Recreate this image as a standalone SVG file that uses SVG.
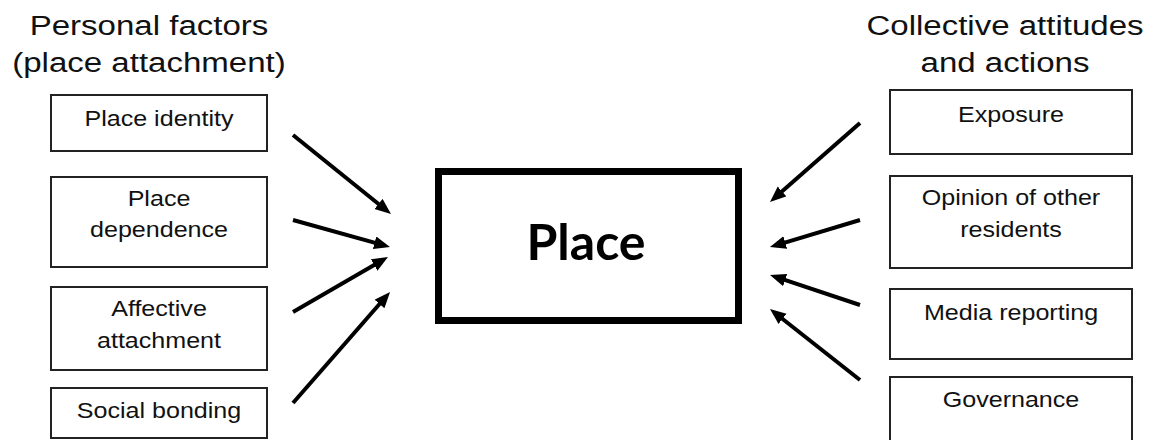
<svg xmlns="http://www.w3.org/2000/svg" width="1153" height="440" viewBox="0 0 1153 440">
<style>
.box{fill:#fff;stroke:#222;stroke-width:2}
.t{font-family:"Liberation Sans",Arial,sans-serif;font-size:22px;fill:#111;text-anchor:middle}
.h{font-family:"Liberation Sans",Arial,sans-serif;font-size:28px;fill:#111;text-anchor:middle}
.c{stroke:#000;stroke-width:4;fill:none;marker-end:url(#ah)}
</style>
<defs>
<marker id="ah" markerUnits="userSpaceOnUse" markerWidth="18" markerHeight="14" refX="10" refY="6.5" orient="auto">
<path d="M0,0 L16,6.5 L0,13 z" fill="#000"/>
</marker>
</defs>
<rect width="1153" height="440" fill="#fff"/>
<g id="title-left">
<text class="h" transform="translate(149,35) scale(1.18,1)">Personal factors</text>
<text class="h" transform="translate(149,72) scale(1.18,1)">(place attachment)</text>
</g>
<g id="title-right">
<text class="h" transform="translate(1005,35) scale(1.18,1)">Collective attitudes</text>
<text class="h" transform="translate(1005,72) scale(1.18,1)">and actions</text>
</g>
<g id="place-identity">
<rect class="box" x="51" y="95" width="216" height="56"/>
<text class="t" transform="translate(159,126) scale(1.14,1)">Place identity</text>
</g>
<g id="place-dependence">
<rect class="box" x="51" y="177" width="216" height="90"/>
<text class="t" transform="translate(159,206) scale(1.14,1)">Place</text>
<text class="t" transform="translate(159,237) scale(1.14,1)">dependence</text>
</g>
<g id="affective-attachment">
<rect class="box" x="51" y="287" width="216" height="83"/>
<text class="t" transform="translate(159,316) scale(1.14,1)">Affective</text>
<text class="t" transform="translate(159,348) scale(1.14,1)">attachment</text>
</g>
<g id="social-bonding">
<rect class="box" x="51" y="388" width="216" height="50"/>
<text class="t" transform="translate(159,418) scale(1.14,1)">Social bonding</text>
</g>
<g id="place">
<rect x="438.5" y="171.5" width="300" height="149" fill="#fff" stroke="#000" stroke-width="7"/>
<text x="586" y="260" font-family="Lato,'Open Sans',sans-serif" font-weight="bold" font-size="50" text-anchor="middle" fill="#000">Place</text>
</g>
<g id="exposure">
<rect class="box" x="890" y="90" width="242" height="64"/>
<text class="t" transform="translate(1011,122) scale(1.14,1)">Exposure</text>
</g>
<g id="opinion">
<rect class="box" x="890" y="176" width="242" height="92"/>
<text class="t" transform="translate(1011,205) scale(1.14,1)">Opinion of other</text>
<text class="t" transform="translate(1011,237) scale(1.14,1)">residents</text>
</g>
<g id="media-reporting">
<rect class="box" x="890" y="289" width="242" height="70"/>
<text class="t" transform="translate(1011,320) scale(1.14,1)">Media reporting</text>
</g>
<g id="governance">
<rect class="box" x="890" y="377" width="242" height="70"/>
<text class="t" transform="translate(1011,407) scale(1.14,1)">Governance</text>
</g>
<g id="connectors">
<line class="c" x1="293" y1="135" x2="386.3" y2="210.2"/>
<line class="c" x1="293" y1="220" x2="384.2" y2="245.4"/>
<line class="c" x1="293" y1="312" x2="382.8" y2="260.0"/>
<line class="c" x1="293" y1="403" x2="386.1" y2="296.5"/>
<line class="c" x1="860" y1="123" x2="774.5" y2="198.0"/>
<line class="c" x1="860" y1="220" x2="775.7" y2="245.3"/>
<line class="c" x1="860" y1="305" x2="775.7" y2="276.9"/>
<line class="c" x1="860" y1="380" x2="774.7" y2="312.7"/>
</g>
</svg>
